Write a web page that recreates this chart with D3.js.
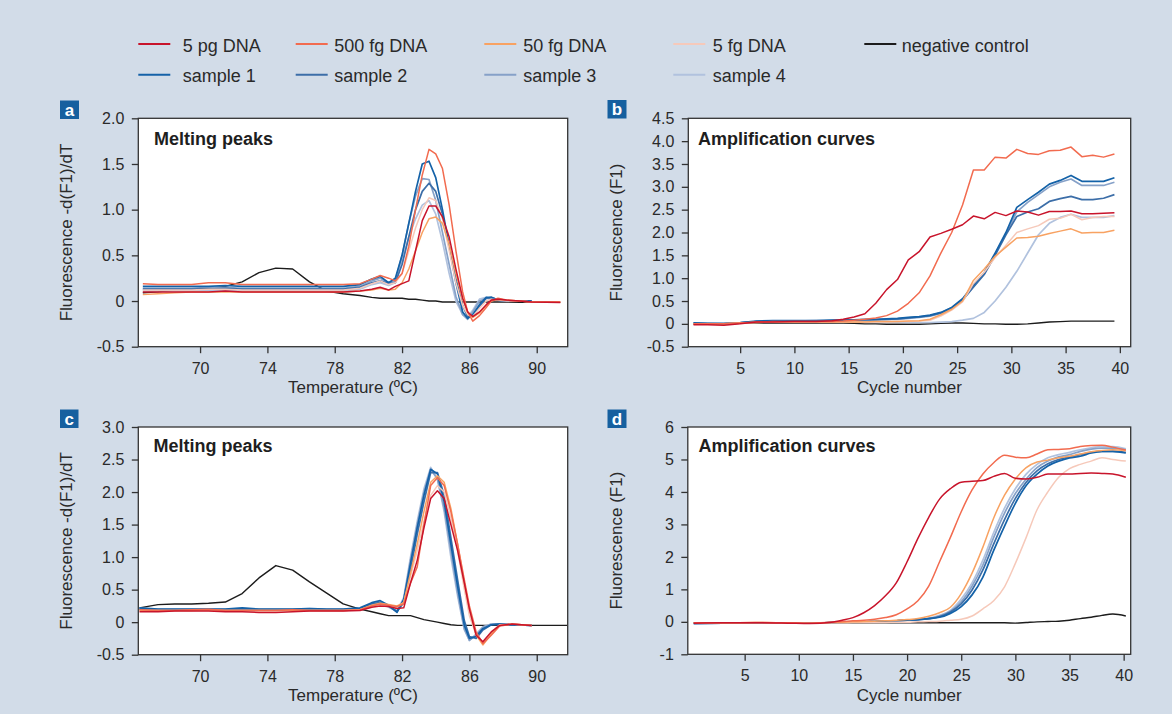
<!DOCTYPE html>
<html><head><meta charset="utf-8">
<script src="https://cdn.jsdelivr.net/npm/d3@7"></script>
<style>
body{margin:0;background:#d2dce8;}
svg{display:block;}
text{font-family:"Liberation Sans",Arial,Helvetica,sans-serif;}
</style>
</head><body>
<svg id="chart" width="1172" height="714"></svg>
<script>
// ---------- series ----------
const seriesNames = ["5 pg DNA","500 fg DNA","50 fg DNA","5 fg DNA","negative control","sample 1","sample 2","sample 3","sample 4"];
const seriesColors = ["#c8142b","#f26b4f","#f8a262","#f6c9ba","#1c1c1c","#1462a8","#3c6ea8","#86a1c8","#b1c2de"];

// ---------- panel a: melting peaks ----------
const tempsA = [66.6,67.5,68.5,69.5,70.5,71.5,72.5,73.5,74.5,75.5,76.5,77.5,78.5,79.5,80.2,80.7,81.2,81.6,82.0,82.4,82.8,83.2,83.6,84.0,84.4,84.8,85.2,85.6,85.9,86.2,86.6,87.0,87.3,87.7,88.2,89,89.7,91.4];
const a_5pg  = [0.1,0.1,0.1,0.1,0.1,0.11,0.1,0.1,0.1,0.1,0.1,0.1,0.1,0.11,0.13,0.15,0.12,0.16,0.19,0.22,0.55,0.88,1.04,1.04,0.92,0.7,0.35,0.03,-0.12,-0.17,-0.12,-0.04,0.01,0.02,0.01,0.0,-0.01,-0.015];
const a_500fg= [0.19,0.18,0.18,0.18,0.2,0.2,0.18,0.18,0.18,0.18,0.18,0.18,0.18,0.19,0.24,0.28,0.25,0.22,0.3,0.6,1.0,1.38,1.66,1.61,1.45,1.05,0.55,0.1,-0.12,-0.22,-0.16,-0.07,0.0,0.03,0.01,0.0,-0.01,-0.01];
const a_50fg = [0.07,0.08,0.09,0.1,0.1,0.1,0.1,0.1,0.1,0.1,0.1,0.1,0.1,0.11,0.12,0.14,0.12,0.13,0.2,0.35,0.55,0.75,0.9,0.92,0.85,0.62,0.3,0.02,-0.12,-0.18,-0.13,-0.05,0.0,0.02,0.01,0.0,-0.01,-0.01];
const a_5fg  = [0.12,0.12,0.12,0.12,0.13,0.13,0.12,0.12,0.12,0.12,0.12,0.12,0.12,0.14,0.19,0.22,0.18,0.2,0.3,0.55,0.8,1.0,1.13,1.1,0.9,0.55,0.2,-0.05,-0.15,-0.17,-0.08,0.0,0.02,0.01,0.0,0.0,-0.01,-0.01];
const a_neg  = [0.09,0.1,0.12,0.13,0.14,0.16,0.21,0.31,0.36,0.35,0.21,0.11,0.08,0.06,0.04,0.03,0.03,0.03,0.03,0.02,0.02,0.01,0.0,0.0,-0.01,-0.01,-0.01,-0.01,-0.01,-0.01,-0.01,-0.01,-0.01,-0.01,-0.01,-0.015,-0.015,-0.015];
const a_s1   = [0.16,0.16,0.16,0.16,0.16,0.17,0.16,0.16,0.16,0.16,0.16,0.16,0.16,0.18,0.24,0.27,0.2,0.25,0.5,0.85,1.2,1.5,1.53,1.35,1.0,0.6,0.2,-0.12,-0.19,-0.15,-0.04,0.04,0.04,0.01,0.0,0.0,0.0,null];
const a_s2   = [0.13,0.13,0.13,0.13,0.13,0.14,0.13,0.13,0.13,0.13,0.13,0.13,0.13,0.15,0.2,0.22,0.19,0.2,0.4,0.7,1.0,1.2,1.29,1.2,0.95,0.6,0.25,-0.05,-0.17,-0.16,-0.06,0.03,0.04,0.01,0.0,0.0,0.0,null];
const a_s3   = [0.14,0.14,0.14,0.14,0.15,0.15,0.14,0.14,0.14,0.14,0.14,0.14,0.14,0.16,0.22,0.25,0.2,0.22,0.5,0.85,1.15,1.34,1.33,1.1,0.75,0.4,0.05,-0.15,-0.2,-0.12,0.0,0.03,0.02,0.01,0.0,0.0,0.0,null];
const a_s4   = [0.11,0.11,0.11,0.11,0.12,0.12,0.11,0.11,0.11,0.11,0.11,0.11,0.11,0.13,0.18,0.2,0.17,0.2,0.45,0.7,0.9,1.05,1.1,0.95,0.65,0.3,0.0,-0.15,-0.17,-0.1,0.02,0.04,0.02,0.01,0.0,0.0,0.0,null];

// ---------- panel b: amplification curves ----------
const cyclesB = [0.7,2,3.5,5,6.5,8,10,12,13.5,14.5,15.5,16.5,17.5,18.5,19.5,20.5,21.5,22.5,23.5,24.5,25.5,26.5,27.5,28.5,29.5,30.5,31.5,32.5,33.5,34.5,35.5,36.5,37.5,38.5,39.5];
const b_5pg  = [-0.02,-0.02,-0.03,0.0,0.04,0.04,0.05,0.05,0.07,0.1,0.15,0.22,0.45,0.75,0.97,1.4,1.58,1.9,1.98,2.07,2.17,2.36,2.3,2.44,2.37,2.47,2.45,2.38,2.46,2.46,2.47,2.41,2.41,2.42,2.43];
const b_500fg= [0.0,0.0,0.0,0.02,0.04,0.05,0.05,0.05,0.05,0.06,0.08,0.1,0.13,0.18,0.28,0.45,0.68,1.05,1.55,2.0,2.6,3.37,3.37,3.65,3.63,3.82,3.73,3.71,3.79,3.8,3.87,3.66,3.69,3.65,3.72];
const b_50fg = [0.0,0.0,0.0,0.02,0.03,0.04,0.04,0.04,0.04,0.04,0.04,0.04,0.05,0.05,0.05,0.06,0.07,0.1,0.2,0.32,0.5,0.95,1.2,1.48,1.68,1.88,1.89,1.92,1.98,2.03,2.08,1.99,2.0,2.0,2.05];
const b_5fg  = [0.0,0.0,0.0,0.02,0.03,0.04,0.04,0.04,0.04,0.04,0.04,0.04,0.04,0.04,0.05,0.05,0.06,0.08,0.17,0.3,0.48,0.88,1.13,1.45,1.72,2.0,2.08,2.15,2.29,2.31,2.4,2.28,2.33,2.35,2.35];
const b_neg  = [0.0,0.0,0.0,0.01,0.02,0.02,0.02,0.02,0.02,0.02,0.01,0.0,0.0,-0.01,-0.01,-0.01,-0.01,0.0,0.01,0.02,0.02,0.01,0.0,0.0,-0.01,-0.01,0.0,0.02,0.04,0.05,0.06,0.06,0.06,0.06,0.06];
const b_s1   = [0.02,0.01,0.01,0.03,0.06,0.07,0.07,0.07,0.08,0.08,0.09,0.1,0.1,0.11,0.12,0.14,0.16,0.19,0.25,0.36,0.55,0.85,1.12,1.55,2.0,2.55,2.72,2.88,3.06,3.14,3.25,3.12,3.12,3.12,3.2];
const b_s2   = [0.01,0.0,0.0,0.02,0.05,0.06,0.06,0.06,0.07,0.07,0.08,0.09,0.09,0.1,0.11,0.13,0.15,0.18,0.24,0.35,0.52,0.8,1.08,1.5,1.95,2.35,2.45,2.52,2.68,2.74,2.79,2.72,2.72,2.75,2.83];
const b_s3   = [0.01,0.01,0.0,0.02,0.05,0.06,0.06,0.07,0.07,0.07,0.08,0.08,0.09,0.1,0.1,0.12,0.14,0.17,0.23,0.34,0.52,0.82,1.1,1.52,1.98,2.45,2.66,2.83,3.0,3.1,3.17,3.03,3.03,3.03,3.1];
const b_s4   = [0.0,0.0,0.0,0.02,0.04,0.05,0.05,0.05,0.05,0.05,0.05,0.05,0.05,0.04,0.04,0.03,0.03,0.03,0.04,0.05,0.08,0.12,0.25,0.5,0.8,1.15,1.55,1.95,2.2,2.33,2.4,2.33,2.33,2.33,2.37];

// ---------- panel c: melting peaks ----------
const tempsC = [66.4,67.5,68.5,69.5,70.5,71.5,72.5,73.5,74.5,75.5,76.5,77.5,78.5,79.5,80.2,80.7,81.2,81.7,82.1,82.5,82.9,83.3,83.7,84.1,84.5,84.9,85.3,85.7,86.0,86.4,86.8,87.3,87.8,88.5,89.7,91.8];
const c_5pg  = [0.16,0.16,0.17,0.17,0.17,0.16,0.16,0.15,0.15,0.16,0.17,0.17,0.17,0.18,0.23,0.25,0.24,0.21,0.22,0.6,0.95,1.45,1.9,2.02,1.9,1.5,1.1,0.6,0.2,-0.2,-0.3,-0.15,-0.05,-0.03,-0.05,null];
const c_500fg= [0.19,0.18,0.18,0.19,0.2,0.18,0.18,0.18,0.18,0.19,0.18,0.18,0.18,0.19,0.25,0.28,0.26,0.24,0.28,0.6,0.85,1.5,2.1,2.22,2.1,1.7,1.2,0.65,0.25,-0.15,-0.33,-0.2,-0.06,-0.03,-0.05,null];
const c_50fg = [0.18,0.18,0.18,0.18,0.19,0.18,0.18,0.18,0.18,0.18,0.18,0.18,0.18,0.19,0.26,0.29,0.27,0.25,0.3,0.75,1.2,1.7,2.15,2.25,2.15,1.75,1.2,0.6,0.2,-0.2,-0.35,-0.18,-0.05,-0.03,-0.05,null];
const c_5fg  = [0.18,0.18,0.18,0.18,0.18,0.18,0.18,0.18,0.18,0.18,0.18,0.18,0.18,0.19,0.25,0.27,0.25,0.23,0.3,0.7,1.1,1.55,1.95,2.1,2.0,1.6,1.1,0.5,0.1,-0.2,-0.3,-0.15,-0.04,-0.03,-0.05,null];
const c_neg  = [0.22,0.27,0.28,0.28,0.29,0.31,0.44,0.68,0.87,0.8,0.62,0.45,0.28,0.2,0.16,0.13,0.1,0.1,0.1,0.1,0.07,0.04,0.02,0.0,-0.02,-0.04,-0.05,-0.05,-0.05,-0.05,-0.05,-0.05,-0.05,-0.05,-0.05,-0.05];
const c_s1   = [0.22,0.2,0.2,0.2,0.2,0.2,0.22,0.2,0.2,0.2,0.21,0.2,0.2,0.22,0.3,0.33,0.26,0.15,0.35,0.9,1.45,1.95,2.35,2.28,1.85,1.2,0.55,-0.05,-0.25,-0.22,-0.1,-0.04,-0.03,-0.04,-0.05,null];
const c_s2   = [0.2,0.19,0.19,0.19,0.19,0.19,0.2,0.19,0.19,0.19,0.2,0.19,0.19,0.21,0.28,0.3,0.25,0.17,0.3,0.8,1.35,1.85,2.3,2.3,1.95,1.3,0.65,0.02,-0.22,-0.25,-0.12,-0.04,-0.03,-0.04,-0.05,null];
const c_s3   = [0.2,0.19,0.19,0.19,0.19,0.19,0.2,0.19,0.19,0.19,0.2,0.19,0.19,0.2,0.27,0.3,0.24,0.16,0.35,0.95,1.5,2.0,2.35,2.2,1.75,1.1,0.45,-0.1,-0.28,-0.2,-0.08,-0.03,-0.03,-0.04,-0.05,null];
const c_s4   = [0.21,0.2,0.2,0.2,0.2,0.2,0.21,0.2,0.2,0.2,0.21,0.2,0.2,0.21,0.26,0.29,0.23,0.17,0.38,1.0,1.55,2.05,2.38,2.2,1.7,1.0,0.4,-0.12,-0.28,-0.18,-0.07,-0.03,-0.03,-0.04,-0.05,null];

// ---------- panel d: amplification curves ----------
const cyclesD = [0.3,3,6,9,11,13,14,15,16,17,18,19,20,21,22,23,24,25,26,27,28,29,30,31,32,33,34,35,36,37,38,39,40.2];
const d_5pg  = [-0.04,-0.03,-0.03,-0.04,-0.05,-0.01,0.05,0.13,0.28,0.5,0.8,1.2,1.85,2.57,3.22,3.78,4.1,4.3,4.33,4.35,4.48,4.57,4.42,4.4,4.45,4.55,4.55,4.55,4.57,4.58,4.57,4.55,4.45];
const d_500fg= [-0.03,-0.03,-0.02,-0.03,-0.04,-0.01,0.01,0.03,0.05,0.08,0.13,0.22,0.4,0.65,1.1,1.85,2.6,3.39,4.06,4.55,4.9,5.13,5.07,5.05,5.17,5.3,5.31,5.33,5.4,5.43,5.44,5.38,5.29];
const d_50fg = [-0.03,-0.03,-0.02,-0.03,-0.04,-0.02,-0.01,0.0,0.01,0.02,0.03,0.05,0.07,0.1,0.17,0.28,0.45,0.87,1.5,2.3,3.2,3.9,4.4,4.75,4.92,4.98,5.05,5.1,5.17,5.24,5.28,5.3,5.27];
const d_5fg  = [-0.03,-0.03,-0.03,-0.03,-0.04,-0.03,-0.03,-0.02,-0.02,-0.02,-0.02,-0.01,-0.01,0.0,0.01,0.02,0.05,0.08,0.18,0.4,0.65,1.08,1.8,2.6,3.45,4.0,4.45,4.72,4.85,4.95,5.05,5.0,4.95];
const d_neg  = [-0.03,-0.03,-0.03,-0.03,-0.04,-0.03,-0.03,-0.03,-0.03,-0.03,-0.03,-0.03,-0.03,-0.03,-0.03,-0.03,-0.03,-0.03,-0.03,-0.03,-0.03,-0.03,-0.04,-0.02,0.0,0.01,0.02,0.05,0.1,0.14,0.2,0.24,0.18];
const d_s1   = [-0.05,-0.04,-0.03,-0.03,-0.04,-0.02,-0.01,0.0,0.0,0.01,0.02,0.03,0.05,0.07,0.1,0.14,0.26,0.47,0.83,1.38,2.2,2.95,3.65,4.2,4.55,4.8,4.95,5.05,5.1,5.2,5.25,5.25,5.2];
const d_s2   = [-0.05,-0.04,-0.03,-0.03,-0.04,-0.02,-0.01,0.0,0.0,0.01,0.02,0.03,0.05,0.07,0.1,0.16,0.3,0.55,0.98,1.6,2.4,3.15,3.8,4.3,4.65,4.87,5.0,5.08,5.15,5.22,5.25,5.25,5.22];
const d_s3   = [-0.05,-0.04,-0.03,-0.03,-0.04,-0.02,-0.01,0.0,0.0,0.01,0.02,0.03,0.05,0.07,0.1,0.18,0.33,0.62,1.1,1.75,2.6,3.35,3.95,4.4,4.75,4.95,5.08,5.15,5.25,5.32,5.35,5.35,5.3];
const d_s4   = [-0.05,-0.04,-0.03,-0.03,-0.04,-0.02,-0.01,0.0,0.0,0.01,0.02,0.03,0.05,0.07,0.11,0.2,0.35,0.7,1.2,1.9,2.75,3.5,4.1,4.55,4.85,5.05,5.15,5.22,5.3,5.36,5.4,5.4,5.33];

// ---------- ticks ----------
const ticksTemp = [70,74,78,82,86,90];
const ticksCycle = [5,10,15,20,25,30,35,40];
const ticksYA = [-0.5,0,0.5,1.0,1.5,2.0];
const ticksYB = [-0.5,0,0.5,1.0,1.5,2.0,2.5,3.0,3.5,4.0,4.5];
const ticksYC = [-0.5,0,0.5,1.0,1.5,2.0,2.5,3.0];
const ticksYD = [-1,0,1,2,3,4,5,6];

// series order: [5pg,500fg,50fg,5fg,neg,s1,s2,s3,s4]
const panelData = {
  a: [a_5pg,a_500fg,a_50fg,a_5fg,a_neg,a_s1,a_s2,a_s3,a_s4],
  b: [b_5pg,b_500fg,b_50fg,b_5fg,b_neg,b_s1,b_s2,b_s3,b_s4],
  c: [c_5pg,c_500fg,c_50fg,c_5fg,c_neg,c_s1,c_s2,c_s3,c_s4],
  d: [d_5pg,d_500fg,d_50fg,d_5fg,d_neg,d_s1,d_s2,d_s3,d_s4]
};
const fmt1 = v => v === 0 ? "0" : (v < 0 ? "-" : "") + Math.abs(v).toFixed(1);
const fmt0 = v => (v < 0 ? "-" : "") + String(Math.abs(v));

const panels = [
  {id:"a", box:[138.3,118.3,567.7,346.7], xd:[66.33,91.84], yd:[-0.5,2.0], xs:tempsA, xt:ticksTemp, yt:ticksYA, yf:fmt1,
   title:"Melting peaks", tx:154, ty:144.5, xlab:"Temperature (ºC)", ylab:"Fluorescence -d(F1)/dT", lb:[60,100.5,19,18.5], xly:393, ylx:72, curve:d3.curveLinear},
  {id:"b", box:[688.3,118.3,1130.7,346.7], xd:[0.22,41], yd:[-0.5,4.5], xs:cyclesB, xt:ticksCycle, yt:ticksYB, yf:fmt1,
   title:"Amplification curves", tx:698, ty:144.5, xlab:"Cycle number", ylab:"Fluorescence (F1)", lb:[607.5,100,19,18.5], xly:393, ylx:622, curve:d3.curveLinear},
  {id:"c", box:[138.3,427,567.7,654.7], xd:[66.33,91.84], yd:[-0.5,3.0], xs:tempsC, xt:ticksTemp, yt:ticksYC, yf:fmt1,
   title:"Melting peaks", tx:153.5, ty:452, xlab:"Temperature (ºC)", ylab:"Fluorescence -d(F1)/dT", lb:[60,409.5,18.5,18.5], xly:701, ylx:72, curve:d3.curveLinear},
  {id:"d", box:[687.8,427,1130.7,654.3], xd:[-0.25,40.65], yd:[-1,6], xs:cyclesD, xt:ticksCycle, yt:ticksYD, yf:fmt0,
   title:"Amplification curves", tx:698.5, ty:452, xlab:"Cycle number", ylab:"Fluorescence (F1)", lb:[607.5,409.5,19,18.5], xly:701, ylx:622, curve:d3.curveMonotoneX}
];

const svg = d3.select("#chart");
svg.append("rect").attr("width",1172).attr("height",714).attr("fill","#d2dce8");

// draw order: neg, s4, s3, s2, s1, 5fg, 50fg, 500fg, 5pg
const drawOrder = [4,8,7,6,5,3,2,1,0];
const textCol = "#2a2a2a";

panels.forEach(p => {
  const [x0,y0,x1,y1] = p.box;
  const x = d3.scaleLinear().domain(p.xd).range([x0,x1]);
  const y = d3.scaleLinear().domain(p.yd).range([y1,y0]);
  const g = svg.append("g");
  g.append("rect").attr("x",x0).attr("y",y0).attr("width",x1-x0).attr("height",y1-y0)
    .attr("fill","#ffffff");

  const clipId = "clip-"+p.id;
  g.append("clipPath").attr("id",clipId).append("rect")
    .attr("x",x0).attr("y",y0).attr("width",x1-x0).attr("height",y1-y0);
  const lines = g.append("g").attr("clip-path","url(#"+clipId+")");
  const data = panelData[p.id];
  drawOrder.forEach(si => {
    const vals = data[si];
    const pts = p.xs.map((xv,i) => ({x:xv, y:vals[i]}));
    const line = d3.line().defined(d => d.y !== null && d.y !== undefined && !isNaN(d.y))
      .x(d => x(d.x)).y(d => y(d.y)).curve(p.curve);
    lines.append("path").attr("d", line(pts)).attr("fill","none")
      .attr("stroke", seriesColors[si])
      .attr("stroke-width", si === 4 ? 1.4 : (si >= 5 ? 1.7 : 1.5))
      .attr("stroke-linejoin","round");
  });

  // frame
  g.append("rect").attr("x",x0).attr("y",y0).attr("width",x1-x0).attr("height",y1-y0)
    .attr("fill","none").attr("stroke","#333").attr("stroke-width",1.3);

  const ya = d3.axisLeft(y).tickValues(p.yt).tickFormat(p.yf).tickSize(6.5).tickPadding(7.5).tickSizeOuter(0);
  const yg = g.append("g").attr("transform",`translate(${x0},0)`).call(ya);
  const xa = d3.axisBottom(x).tickValues(p.xt).tickFormat(fmt0).tickSize(6.5).tickPadding(9).tickSizeOuter(0);
  const xg = g.append("g").attr("transform",`translate(0,${y1})`).call(xa);
  [yg,xg].forEach(ag => {
    ag.select(".domain").remove();
    ag.selectAll(".tick line").attr("stroke","#333").attr("stroke-width",1.3);
    ag.selectAll(".tick text").attr("fill",textCol).style("font-size","16px")
      .style("font-family","'Liberation Sans',Arial,sans-serif");
  });

  // title inside plot
  g.append("text").attr("x",p.tx).attr("y",p.ty).text(p.title)
    .attr("fill","#1e1e1e").style("font-size","18px").style("font-weight","bold");

  // axis titles
  g.append("text").attr("x",(x0+x1)/2).attr("y",p.xly).attr("text-anchor","middle")
    .attr("fill",textCol).style("font-size","17px").text(p.xlab);
  g.append("text").attr("transform",`translate(${p.ylx},${(y0+y1)/2}) rotate(-90)`)
    .attr("text-anchor","middle").attr("fill",textCol).style("font-size","17px").text(p.ylab);

  // panel letter
  const [lx,ly,lw,lh] = p.lb;
  g.append("rect").attr("x",lx).attr("y",ly).attr("width",lw).attr("height",lh).attr("fill","#16609f");
  g.append("text").attr("x",lx+lw/2).attr("y",ly+lh/2).attr("dy","0.36em").attr("text-anchor","middle")
    .attr("fill","#ffffff").style("font-size","17px").style("font-weight","bold").text(p.id);
});

// ---------- legend ----------
const legendRows = [[0,1,2,3,4],[5,6,7,8]];
const legendLineX = [138.3,295.7,484.3,673.3,864.3];
const legendTextX = [182.7,334.3,523.3,712.7,901.7];
const legendLineY = [44,74.7];
const legendTextY = [52,81.5];
const lg = svg.append("g");
legendRows.forEach((row,ri) => {
  row.forEach((si,ci) => {
    lg.append("line").attr("x1",legendLineX[ci]).attr("x2",legendLineX[ci]+32)
      .attr("y1",legendLineY[ri]).attr("y2",legendLineY[ri])
      .attr("stroke",seriesColors[si]).attr("stroke-width",2);
    lg.append("text").attr("x",legendTextX[ci]).attr("y",legendTextY[ri])
      .attr("fill",textCol).style("font-size","18px").text(seriesNames[si]);
  });
});
</script>
</body></html>
